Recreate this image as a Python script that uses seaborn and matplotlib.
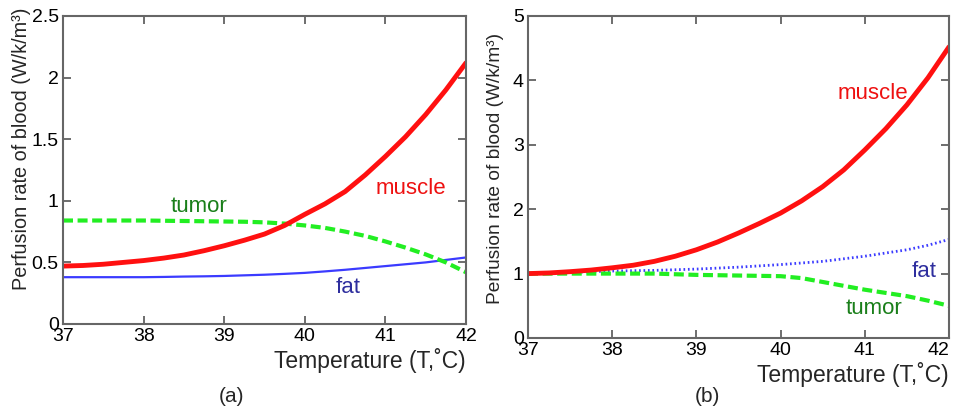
import matplotlib
matplotlib.use("Agg")
import matplotlib.pyplot as plt
import seaborn as sns
import pandas as pd

temps = [37, 37.25, 37.5, 37.75, 38, 38.25, 38.5, 38.75, 39, 39.25, 39.5,
         39.75, 40, 40.25, 40.5, 40.75, 41, 41.25, 41.5, 41.75, 42]

# panel (a)
a_muscle = [0.47, 0.475, 0.485, 0.50, 0.515, 0.535, 0.56, 0.595, 0.635, 0.68, 0.73,
            0.80, 0.89, 0.975, 1.075, 1.21, 1.36, 1.52, 1.70, 1.90, 2.12]
a_tumor = [0.84, 0.84, 0.84, 0.84, 0.84, 0.838, 0.836, 0.834, 0.832, 0.83, 0.825,
           0.815, 0.80, 0.78, 0.75, 0.715, 0.67, 0.62, 0.565, 0.50, 0.42]
a_fat = [0.38, 0.38, 0.38, 0.38, 0.38, 0.382, 0.385, 0.387, 0.39, 0.395, 0.40,
         0.407, 0.415, 0.427, 0.44, 0.455, 0.47, 0.485, 0.50, 0.52, 0.54]

# panel (b)
b_muscle = [1.0, 1.01, 1.03, 1.055, 1.09, 1.13, 1.19, 1.27, 1.37, 1.49, 1.63,
            1.78, 1.94, 2.13, 2.35, 2.61, 2.92, 3.25, 3.62, 4.04, 4.52]
b_tumor = [1.0, 1.0, 1.0, 1.0, 1.0, 1.0, 1.0, 0.99, 0.98, 0.975, 0.97,
           0.965, 0.96, 0.93, 0.87, 0.81, 0.75, 0.70, 0.65, 0.58, 0.50]
b_fat = [1.0, 1.01, 1.02, 1.03, 1.04, 1.045, 1.05, 1.06, 1.07, 1.085, 1.10,
         1.12, 1.14, 1.165, 1.19, 1.23, 1.27, 1.32, 1.37, 1.44, 1.53]

x_ticks = [37, 38, 39, 40, 41, 42]
a_yticks = [0, 0.5, 1, 1.5, 2, 2.5]
a_yticklabels = ["0", "0.5", "1", "1.5", "2", "2.5"]
b_yticks = [0, 1, 2, 3, 4, 5]

sns.set_style("ticks")
plt.rcParams['font.family'] = ['Liberation Sans', 'DejaVu Sans']

fig = plt.figure(figsize=(9.54, 4.07), dpi=100)
axa = fig.add_axes([63/954, 1-324/407, (466-63)/954, (324-16)/407])
axb = fig.add_axes([528/954, 1-338/407, (949-528)/954, (338-16)/407])

dfa = pd.DataFrame({"T": temps, "muscle": a_muscle, "tumor": a_tumor, "fat": a_fat})
dfb = pd.DataFrame({"T": temps, "muscle": b_muscle, "tumor": b_tumor, "fat": b_fat})

red = "#ff1010"
green = "#22ee22"
blue = "#3b3bff"
dash = (0, (2.4, 1.1))

sns.lineplot(data=dfa, x="T", y="fat", ax=axa, color=blue, lw=1.6)
sns.lineplot(data=dfa, x="T", y="tumor", ax=axa, color=green, lw=3, linestyle=dash)
sns.lineplot(data=dfa, x="T", y="muscle", ax=axa, color=red, lw=3.5)

sns.lineplot(data=dfb, x="T", y="fat", ax=axb, color=blue, lw=2, linestyle=(0, (0.6, 1.0)))
sns.lineplot(data=dfb, x="T", y="tumor", ax=axb, color=green, lw=3, linestyle=dash)
sns.lineplot(data=dfb, x="T", y="muscle", ax=axb, color=red, lw=3.5)

ylabel = "Perfusion rate of blood (W/k/m³)"
xlabel = "Temperature (T,˚C)"

for ax, yt, ylim in [(axa, a_yticks, 2.5), (axb, b_yticks, 5)]:
    ax.set_xlim(37, 42)
    ax.set_ylim(0, ylim)
    ax.set_xticks(x_ticks)
    ax.set_yticks(yt)
    ax.tick_params(direction="in", top=True, right=True, length=6, width=1.2,
                   color="#555555", labelsize=14, pad=3, labelcolor="black")
    for s in ax.spines.values():
        s.set_color("#666666")
        s.set_linewidth(1.5)
    ax.set_xlabel(xlabel, fontsize=16.5, loc="right", labelpad=2)

axa.set_ylabel(ylabel, fontsize=14.3)
axa.yaxis.set_label_coords(-0.079, 0.568)
axb.set_ylabel(ylabel, fontsize=13.8)
axb.yaxis.set_label_coords(-0.057, 0.528)

axa.set_yticklabels(a_yticklabels)
axb.get_xticklabels()[-1].set_horizontalalignment("right")

axa.text(38.69, 0.95, "tumor", color="#1a7f1a", fontsize=16, ha="center", va="center")
axa.text(41.32, 1.10, "muscle", color="#ee1111", fontsize=16, ha="center", va="center")
axa.text(40.54, 0.30, "fat", color="#2e2e9e", fontsize=16, ha="center", va="center")

axb.text(41.09, 3.80, "muscle", color="#ee1111", fontsize=16, ha="center", va="center")
axb.text(41.71, 1.03, "fat", color="#2e2e9e", fontsize=16, ha="center", va="center")
axb.text(41.11, 0.46, "tumor", color="#1a7f1a", fontsize=16, ha="center", va="center")

fig.text(232/954, 1-397/407, "(a)", fontsize=15, ha="center", va="center")
fig.text(707/954, 1-397/407, "(b)", fontsize=15, ha="center", va="center")

fig.savefig("out.png", dpi=100, facecolor="white")
